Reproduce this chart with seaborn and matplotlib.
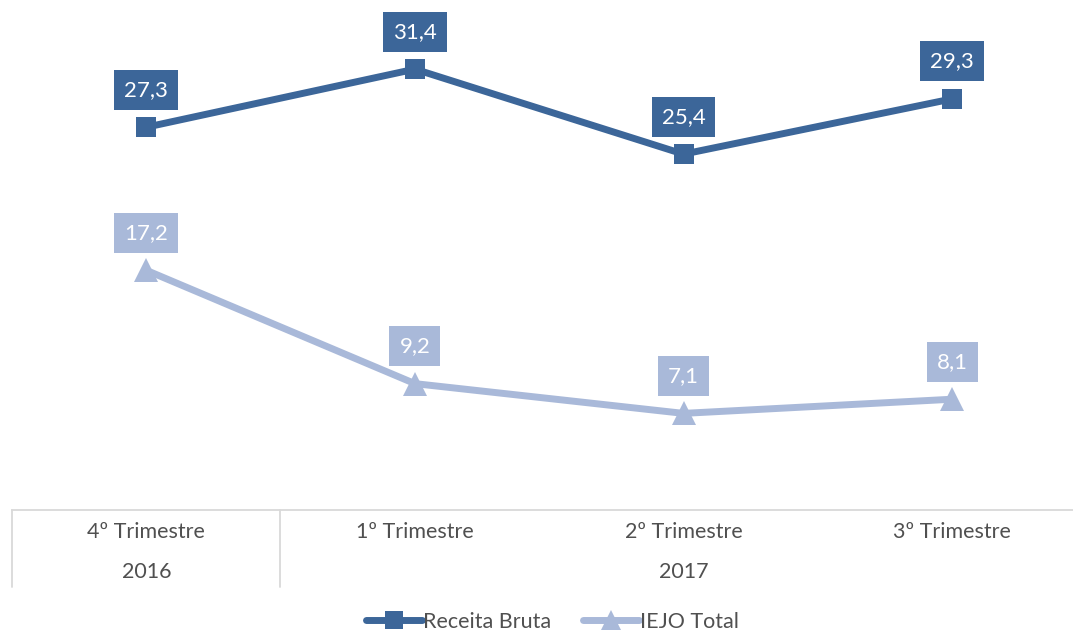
import numpy as np
import pandas as pd
import matplotlib
matplotlib.use("Agg")
import matplotlib.pyplot as plt
from matplotlib.lines import Line2D
import seaborn as sns

categorias = ["4º Trimestre", "1º Trimestre", "2º Trimestre", "3º Trimestre"]
anos = ["2016", "2017"]
receita_bruta = [27.3, 31.4, 25.4, 29.3]
iejo_total = [17.2, 9.2, 7.1, 8.1]

cor_receita = "#3c6699"
cor_iejo = "#a9b9d9"

df = pd.DataFrame({
    "pos": np.arange(len(categorias)),
    "Receita Bruta": receita_bruta,
    "IEJO Total": iejo_total,
})

sns.set_style("white")
plt.rcParams["font.family"] = ["Lato", "DejaVu Sans"]

fig = plt.figure(figsize=(10.73, 6.32), dpi=100)
W, H = 1073, 632
ax_left = 12 / W
ax_bottom = 1 - 510 / H
ax = fig.add_axes([ax_left, ax_bottom, 1 - ax_left, 1 - ax_bottom])

sns.lineplot(data=df, x="pos", y="Receita Bruta", ax=ax, color=cor_receita,
             linewidth=5, marker="s", markersize=15, markeredgewidth=0)
sns.lineplot(data=df, x="pos", y="IEJO Total", ax=ax, color=cor_iejo,
             linewidth=5, marker="^", markersize=17, markeredgewidth=0)

for serie, cor in [("Receita Bruta", cor_receita), ("IEJO Total", cor_iejo)]:
    for x, v in zip(df["pos"], df[serie]):
        ax.annotate(f"{v:.1f}".replace(".", ","), (x, v), xytext=(0, 27),
                    textcoords="offset points", ha="center", va="center",
                    color="white", fontsize=16,
                    bbox=dict(boxstyle="square,pad=0.45", fc=cor, ec="none"))

ax.set_xlim(-0.5, 3.45)
ax.set_ylim(0.28, 36.28)
ax.set_xticks([])
ax.set_yticks([])
ax.set_xlabel("")
ax.set_ylabel("")
for s in ["top", "right", "left"]:
    ax.spines[s].set_visible(False)
ax.spines["bottom"].set_color("#d9d9d9")
ax.spines["bottom"].set_linewidth(1.3)

# category and year labels under the axis
trans = ax.get_xaxis_transform()
y_cat = (532 - 510) / 510
for i, c in enumerate(categorias):
    ax.text(i, -y_cat, c, transform=trans, ha="center", va="center",
            fontsize=15.5, color="#505050", clip_on=False)
y_ano = (572 - 510) / 510
ax.text(0, -y_ano, anos[0], transform=trans, ha="center", va="center",
        fontsize=15.5, color="#505050", clip_on=False)
ax.text(2, -y_ano, anos[1], transform=trans, ha="center", va="center",
        fontsize=15.5, color="#505050", clip_on=False)

for xp in [12, 280]:
    fig.add_artist(Line2D([xp / W, xp / W], [ax_bottom, 1 - 587 / H],
                          color="#d9d9d9", linewidth=1.3))

handles = [
    Line2D([], [], color=cor_receita, linewidth=5, marker="s", markersize=13,
           markeredgewidth=0),
    Line2D([], [], color=cor_iejo, linewidth=5, marker="^", markersize=14,
           markeredgewidth=0),
]
fig.legend(handles, ["Receita Bruta", "IEJO Total"], loc="center",
           bbox_to_anchor=(0.515, 1 - 622 / H), ncol=2, frameon=False,
           fontsize=15.5, handlelength=2.6, handletextpad=0.05,
           columnspacing=1.5, labelcolor="#505050")

fig.savefig("out.png", dpi=100)
